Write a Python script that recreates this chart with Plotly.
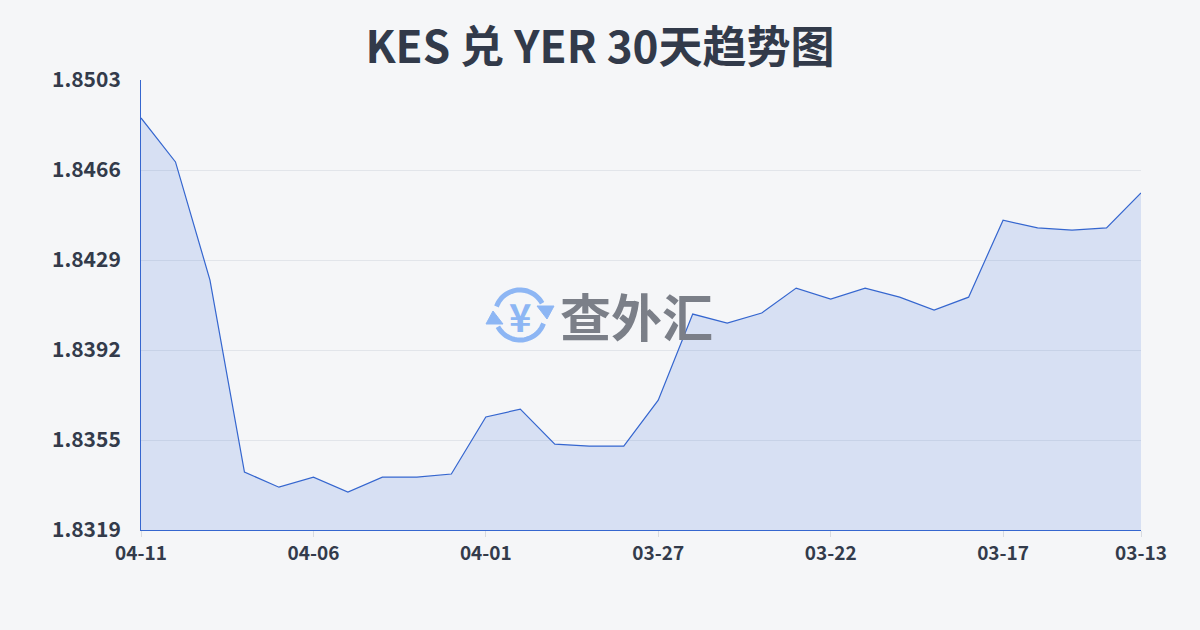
import numpy as np
import plotly.graph_objects as go

# KES -> YER, newest first (as on the axis)
dates = ["04-11", "04-10", "04-09", "04-08", "04-07", "04-06", "04-05", "04-04",
         "04-03", "04-02", "04-01", "03-31", "03-30", "03-29", "03-28", "03-27",
         "03-26", "03-25", "03-24", "03-23", "03-22", "03-21", "03-20", "03-19",
         "03-18", "03-17", "03-16", "03-15", "03-14", "03-13"]
rates = [1.84875, 1.84695, 1.84212, 1.83427, 1.83365, 1.83406, 1.83345, 1.83406,
         1.83406, 1.83419, 1.83652, 1.83684, 1.83541, 1.83533, 1.83533, 1.83721,
         1.84073, 1.84036, 1.84077, 1.84179, 1.84134, 1.84179, 1.84142, 1.84089,
         1.84142, 1.84457, 1.84425, 1.84416, 1.84425, 1.84568]
y_ticks = [1.8319, 1.83558, 1.83926, 1.84294, 1.84662, 1.8503]
y_labels = ["1.8319", "1.8355", "1.8392", "1.8429", "1.8466", "1.8503"]
x_ticks = ["04-11", "04-06", "04-01", "03-27", "03-22", "03-17", "03-13"]

FONT = "Noto Sans CJK SC"
TXT = "#333b4b"
LOGO = "#8db6f4"

fig = go.Figure()
fig.add_trace(go.Scatter(
    x=dates, y=rates, mode="lines",
    line=dict(color="#3566cf", width=1.2),
    fill="tozeroy", fillcolor="rgba(60,110,215,0.16)",
    hoverinfo="skip",
))

# watermark logo: two arcs with arrow heads round a yen sign
def arc(a0, a1, r=25):
    t = np.radians(np.linspace(a0, a1, 30))
    pts = ["%s%.1f,%.1f" % ("M" if i == 0 else "L", r * np.cos(a), r * np.sin(a))
           for i, a in enumerate(t)]
    return " ".join(pts)

lx, ly = (520 - 141) / 1000, (530 - 315) / 450
logo = dict(type="path", xref="paper", yref="paper", xsizemode="pixel", ysizemode="pixel",
            xanchor=lx, yanchor=ly, line=dict(color=LOGO, width=5), layer="below")
head = dict(logo, fillcolor=LOGO, line=dict(color=LOGO, width=1))
shapes = [
    dict(logo, path=arc(160, 28)),
    dict(logo, path=arc(-20, -152)),
    dict(head, path="M17,9 L34,9 L27,-4 Z"),
    dict(head, path="M-17,-9 L-34,-9 L-27,4 Z"),
]

fig.update_layout(
    width=1200, height=630,
    margin=dict(l=141, r=59, t=80, b=100),
    paper_bgcolor="#f5f6f8", plot_bgcolor="#f5f6f8",
    showlegend=False,
    shapes=shapes,
    title=dict(text="KES 兑 YER 30天趋势图", x=0.5, xanchor="center", y=0.924, yanchor="middle",
               font=dict(family=FONT, size=44, color="#323a4a", weight="bold")),
    annotations=[
        dict(text="¥", xref="paper", yref="paper", x=lx, y=ly,
             showarrow=False, font=dict(family=FONT, size=38, color=LOGO, weight="bold")),
        dict(text="查外汇", xref="paper", yref="paper", x=(636 - 141) / 1000, y=ly,
             showarrow=False, font=dict(family=FONT, size=51, color="#7b7f88", weight="bold")),
    ],
    xaxis=dict(type="category", range=[0, len(dates) - 1], tickvals=x_ticks,
               showgrid=False, showline=True, linecolor="#3566cf", linewidth=1,
               ticks="outside", ticklen=6, tickcolor="#d8dbe0",
               tickfont=dict(family=FONT, size=19, color=TXT, weight="bold")),
    yaxis=dict(range=[y_ticks[0], y_ticks[-1]], tickvals=y_ticks, ticktext=y_labels,
               showgrid=True, gridcolor="#e2e5ea", gridwidth=1, zeroline=False,
               showline=True, linecolor="#3566cf", linewidth=1, ticks="", ticklabelstandoff=15,
               tickfont=dict(family=FONT, size=21, color=TXT, weight="bold")),
)

fig.write_html("out.html", config={"displayModeBar": False},
               post_script="document.body.style.margin='0';")
